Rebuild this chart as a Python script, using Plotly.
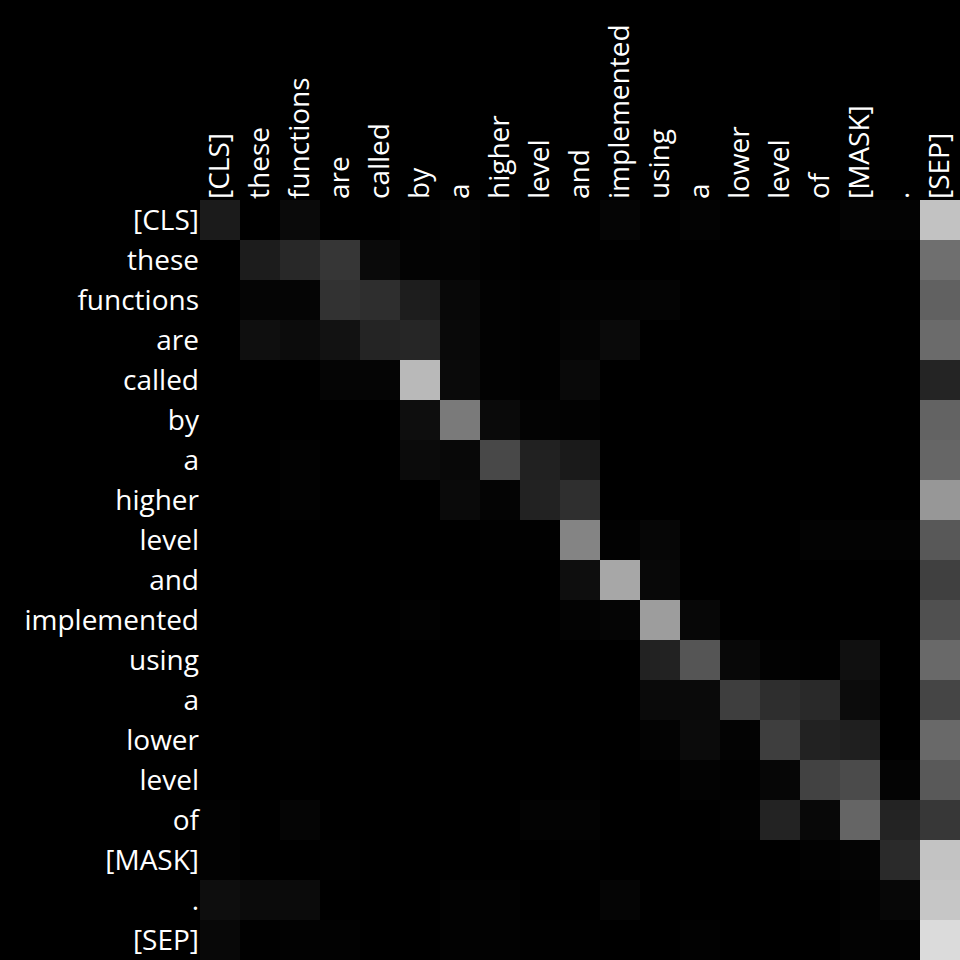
import plotly.graph_objects as go

tokens = ["[CLS]", "these", "functions", "are", "called", "by", "a", "higher",
          "level", "and", "implemented", "using", "a", "lower", "level", "of",
          "[MASK]", ".", "[SEP]"]

attention = [
    [.106, 0, .039, 0, 0, .008, .016, .008, 0, 0, .020, 0, .012, 0, 0, 0, .016, .012, .761],
    [0, .110, .157, .212, .039, .012, .012, .004, 0, 0, 0, 0, 0, 0, 0, 0, 0, 0, .435],
    [0, .020, .020, .196, .180, .114, .031, .008, .004, .012, .012, .016, 0, 0, 0, .008, 0, 0, .380],
    [0, .059, .047, .071, .141, .149, .035, .008, .004, .020, .039, 0, 0, 0, 0, 0, 0, 0, .420],
    [0, 0, 0, .020, .020, .725, .039, .008, .004, .035, 0, 0, 0, 0, 0, 0, 0, 0, .141],
    [0, 0, 0, 0, 0, .055, .478, .039, .012, .008, 0, 0, 0, 0, 0, 0, 0, 0, .388],
    [0, 0, .008, 0, 0, .043, .031, .282, .129, .100, 0, 0, 0, 0, 0, 0, 0, 0, .400],
    [0, 0, .008, 0, 0, 0, .039, .016, .133, .184, 0, 0, 0, 0, 0, 0, 0, 0, .592],
    [0, 0, 0, 0, 0, 0, 0, .004, .004, .516, .008, .024, 0, 0, 0, .012, .012, .012, .345],
    [0, 0, 0, 0, 0, 0, 0, 0, 0, .053, .655, .031, 0, 0, 0, 0, 0, 0, .251],
    [0, 0, 0, 0, 0, .008, 0, 0, 0, .012, .020, .616, .027, 0, 0, 0, 0, 0, .314],
    [0, 0, 0, 0, 0, 0, 0, 0, 0, 0, 0, .133, .333, .031, .008, .004, .063, 0, .412],
    [0, 0, .004, 0, 0, 0, 0, 0, 0, 0, 0, .039, .039, .243, .180, .161, .047, 0, .271],
    [0, 0, .004, 0, 0, 0, 0, 0, 0, 0, 0, .012, .043, .012, .243, .133, .122, 0, .412],
    [0, 0, 0, 0, 0, 0, 0, 0, 0, .004, 0, 0, .012, .004, .024, .259, .294, .016, .349],
    [.008, 0, .020, 0, 0, 0, 0, 0, .012, .010, 0, 0, 0, .008, .137, .031, .396, .137, .216],
    [.008, 0, 0, .004, 0, 0, 0, 0, 0, .004, 0, 0, 0, 0, 0, .008, .016, .165, .765],
    [.055, .043, .043, 0, 0, 0, .008, .008, 0, 0, .020, 0, 0, 0, 0, 0, .008, .027, .776],
    [.031, .004, .008, .008, 0, 0, .008, .008, .004, .004, 0, 0, .008, 0, 0, 0, .012, .008, .859],
]

idx = list(range(len(tokens)))

fig = go.Figure(go.Heatmap(
    z=attention, x=idx, y=idx,
    colorscale=[[0, "black"], [1, "white"]],
    zmin=0, zmax=1, showscale=False,
))

fig.update_layout(
    width=960, height=960,
    margin=dict(l=200, r=0, t=200, b=0),
    paper_bgcolor="black", plot_bgcolor="black",
    font=dict(family="Open Sans", size=28, color="white"),
)
fig.update_xaxes(side="top", tickangle=-90, tickvals=idx, ticktext=tokens,
                 range=[-0.5, len(tokens) - 0.5], showgrid=False, zeroline=False,
                 ticks="", showline=False)
fig.update_yaxes(tickvals=idx, ticktext=tokens, range=[len(tokens) - 0.5, -0.5],
                 showgrid=False, zeroline=False, ticks="", showline=False)

fig.write_html("out.html")
